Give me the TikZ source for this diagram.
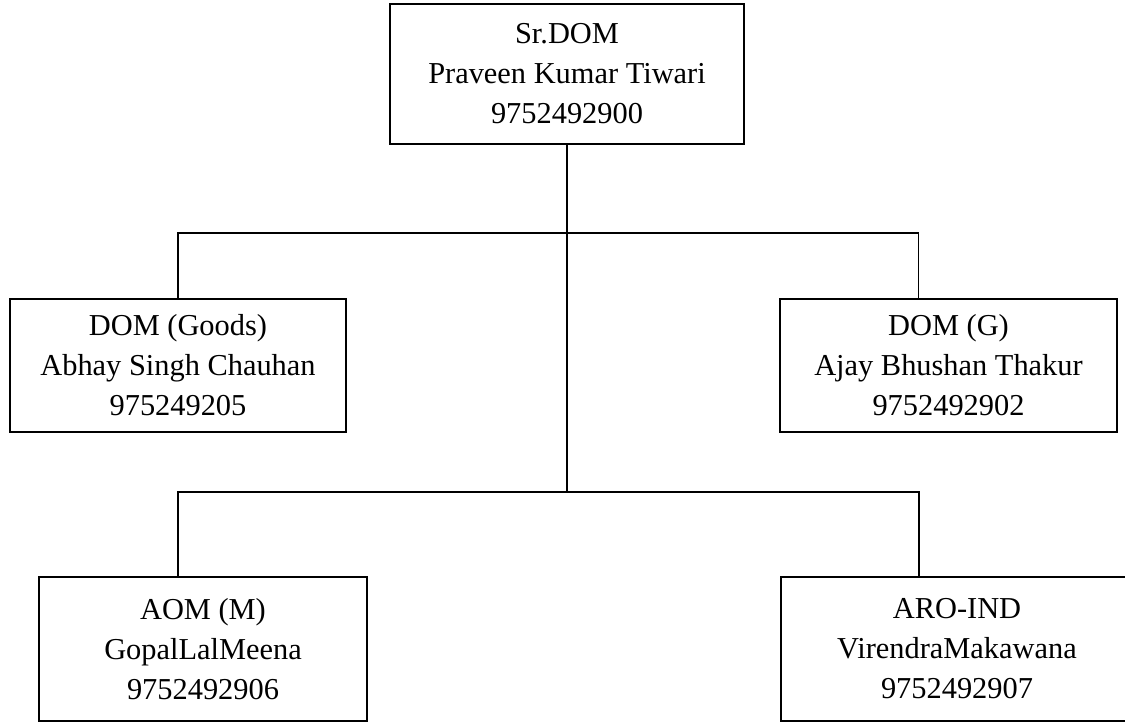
\documentclass[tikz,border=0pt]{standalone}
\usepackage{fontspec}
\setmainfont{Liberation Serif}

\begin{document}
\begin{tikzpicture}[x=0.02cm,y=-0.02cm,
  box/.style={draw,line width=1pt,align=center,inner sep=0pt,
    font=\fontsize{17.3}{22.8}\selectfont},
  link/.style={line width=0.8pt}]
  \useasboundingbox (0,0) rectangle (1125,722);

  \node[box,minimum width=7.08cm,minimum height=2.8cm] (srdom) at (567,74)
    {Sr.DOM\\Praveen Kumar Tiwari\\9752492900};

  \node[box,minimum width=6.72cm,minimum height=2.66cm] (domgoods) at (178,365.5)
    {DOM (Goods)\\Abhay Singh Chauhan\\975249205};
  \node[box,minimum width=6.74cm,minimum height=2.66cm] (domg) at (948.5,365.5)
    {DOM (G)\\Ajay Bhushan Thakur\\9752492902};

  \node[box,minimum width=6.56cm,minimum height=2.88cm] (aom) at (203,649)
    {AOM (M)\\GopalLalMeena\\9752492906};
  \node[box,minimum width=7.04cm,minimum height=2.88cm] (aro) at (957,649)
    {ARO-IND\\VirendraMakawana\\9752492907};

  % tree lines
  \draw[link] (srdom.south) -- ++(0,88) coordinate (hub);
  \draw[link] (domgoods.north) |- (hub) -| ([xshift=-0.6cm]domg.north);
  \draw[link] (hub) -- ++(0,259) coordinate (lowhub);
  \draw[link] ([xshift=-0.5cm]aom.north) |- (lowhub) -| ([xshift=-0.76cm]aro.north);
\end{tikzpicture}
\end{document}
